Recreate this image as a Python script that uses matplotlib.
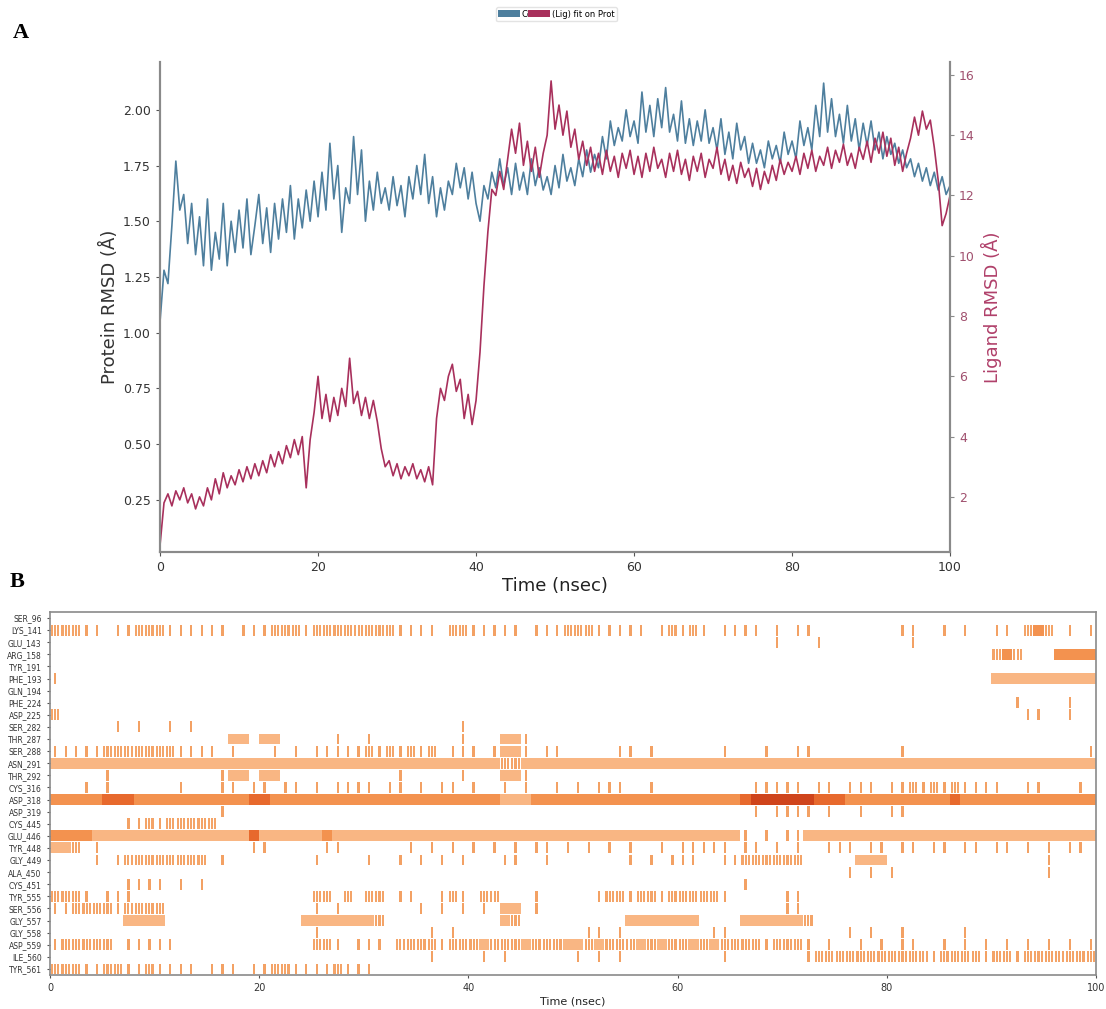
import numpy as np
import matplotlib
matplotlib.use("Agg")
from matplotlib import pyplot as plt
from matplotlib.patches import Patch

# ---- panel A data (RMSD, sampled every 0.5 ns) ----
time_a = np.arange(0, 100.5, 0.5)

protein_rmsd = [
    1.05, 1.28, 1.22, 1.48, 1.77, 1.55, 1.62, 1.40, 1.58, 1.35,
    1.52, 1.30, 1.60, 1.28, 1.45, 1.33, 1.58, 1.30, 1.50, 1.36,
    1.55, 1.38, 1.60, 1.35, 1.48, 1.62, 1.40, 1.56, 1.36, 1.58,
    1.42, 1.60, 1.45, 1.66, 1.42, 1.60, 1.47, 1.64, 1.50, 1.68,
    1.52, 1.72, 1.55, 1.85, 1.60, 1.75, 1.45, 1.65, 1.58, 1.88,
    1.62, 1.82, 1.50, 1.68, 1.55, 1.72, 1.58, 1.65, 1.55, 1.70,
    1.57, 1.66, 1.52, 1.70, 1.60, 1.75, 1.62, 1.80, 1.58, 1.70,
    1.52, 1.65, 1.55, 1.68, 1.62, 1.76, 1.65, 1.74, 1.60, 1.72,
    1.58, 1.50, 1.66, 1.60, 1.72, 1.65, 1.78, 1.66, 1.74, 1.62,
    1.76, 1.64, 1.72, 1.62, 1.78, 1.66, 1.74, 1.64, 1.70, 1.62,
    1.75, 1.65, 1.80, 1.68, 1.74, 1.66, 1.78, 1.70, 1.82, 1.72,
    1.80, 1.74, 1.88, 1.78, 1.95, 1.84, 1.92, 1.86, 2.00, 1.88,
    1.95, 1.85, 2.08, 1.90, 2.02, 1.88, 2.05, 1.92, 2.10, 1.90,
    1.98, 1.86, 2.04, 1.85, 1.96, 1.84, 1.95, 1.86, 2.00, 1.85,
    1.92, 1.82, 1.96, 1.80, 1.90, 1.78, 1.94, 1.82, 1.88, 1.76,
    1.85, 1.76, 1.82, 1.74, 1.86, 1.78, 1.84, 1.76, 1.90, 1.80,
    1.86, 1.78, 1.95, 1.84, 1.92, 1.82, 2.02, 1.88, 2.12, 1.90,
    2.05, 1.88, 1.98, 1.85, 2.02, 1.86, 1.96, 1.82, 1.94, 1.84,
    1.95, 1.82, 1.90, 1.78, 1.88, 1.80, 1.85, 1.76, 1.82, 1.74,
    1.78, 1.70, 1.76, 1.68, 1.74, 1.66, 1.72, 1.64, 1.70, 1.62,
    1.66,
]

ligand_rmsd = [
    0.4, 1.8, 2.1, 1.7, 2.2, 1.9, 2.3, 1.8, 2.1, 1.6,
    2.0, 1.7, 2.3, 1.9, 2.6, 2.1, 2.8, 2.3, 2.7, 2.4,
    2.9, 2.5, 3.0, 2.6, 3.1, 2.7, 3.2, 2.8, 3.4, 3.0,
    3.5, 3.1, 3.7, 3.3, 3.9, 3.4, 4.0, 2.3, 3.9, 4.8,
    6.0, 4.6, 5.4, 4.5, 5.3, 4.7, 5.6, 5.0, 6.6, 5.1,
    5.5, 4.7, 5.3, 4.6, 5.2, 4.5, 3.6, 3.0, 3.2, 2.7,
    3.1, 2.6, 3.0, 2.7, 3.1, 2.6, 2.9, 2.5, 3.0, 2.4,
    4.6, 5.6, 5.2, 6.0, 6.4, 5.5, 5.9, 4.6, 5.4, 4.4,
    5.2, 6.8, 9.0, 10.8, 12.2, 12.0, 12.8, 12.2, 13.2, 14.2,
    13.4, 14.4, 13.0, 13.8, 12.8, 13.6, 12.6, 13.4, 14.0, 15.8,
    14.2, 15.0, 14.0, 14.8, 13.6, 14.2, 13.2, 13.8, 13.0, 13.6,
    12.8, 13.4, 12.7, 13.5, 12.8, 13.3, 12.6, 13.4, 12.9, 13.5,
    12.7, 13.3, 12.6, 13.4, 12.8, 13.6, 12.9, 13.2, 12.6, 13.4,
    12.8, 13.5, 12.7, 13.2, 12.5, 13.3, 12.8, 13.4, 12.6, 13.2,
    12.9, 13.6, 12.7, 13.2, 12.5, 13.0, 12.4, 13.1, 12.6, 12.9,
    12.3, 12.9, 12.2, 12.8, 12.4, 13.0, 12.5, 13.2, 12.7, 13.1,
    12.8, 13.3, 12.7, 13.4, 12.9, 13.5, 12.8, 13.3, 13.0, 13.6,
    12.9, 13.5, 13.1, 13.7, 13.0, 13.4, 12.9, 13.6, 13.2, 13.8,
    13.1, 13.9, 13.4, 14.1, 13.3, 13.9, 13.0, 13.6, 12.8, 13.4,
    13.9, 14.6, 14.0, 14.8, 14.2, 14.5, 13.6, 12.5, 11.0, 11.4,
    12.0,
]

# ---- panel B data (contact level per 1 ns bin) ----
# 0 none, 1 sparse tick, 2 dense ticks, 3 light, 4 medium, 5 dark, 6 darkest
residues = ["SER_96", "LYS_141", "GLU_143", "ARG_158", "TYR_191", "PHE_193",
            "GLN_194", "PHE_224", "ASP_225", "SER_282", "THR_287", "SER_288",
            "ASN_291", "THR_292", "CYS_316", "ASP_318", "ASP_319", "CYS_445",
            "GLU_446", "TYR_448", "GLY_449", "ALA_450", "CYS_451", "TYR_555",
            "SER_556", "GLY_557", "GLY_558", "ASP_559", "ILE_560", "TYR_561"]

Z = "0000000000"
contacts = [
    " ".join([Z] * 10),
    "2221101122 2111111011 1222122222 2221111022 1111101112 2211111012 1210111101 0110000000 0110010100 1102420101",
    " ".join([Z] * 6) + " 0000000001 0001000000 0010000000 " + Z,
    " ".join([Z] * 9) + " 2420004444",
    " ".join([Z] * 10),
    "1000000000 " + " ".join([Z] * 8) + " 3333333333",
    " ".join([Z] * 10),
    " ".join([Z] * 9) + " 0010000100",
    "2000000000 " + " ".join([Z] * 8) + " 0001100100",
    "0000001010 0101000000 " + Z + " 0000000001 " + " ".join([Z] * 6),
    "0000000000 0000000330 3300000100 1000000001 0003310000 " + " ".join([Z] * 4) + " 0000000000",
    "1111122222 2211110100 0101011111 2121212011 1013310110 0000110100 0000100010 0110000000 0100000000 0000000001",
    "3333333333 3333333333 3333333333 3333333333 3332233333 3333333333 3333333333 3333333333 3333333333 3333333333",
    "0000010000 0000001330 3300000000 0001000001 0003310000 " + " ".join([Z] * 5),
    "0001010000 0010001101 1011010111 1011010110 1001010010 1011100100 0000000111 1101101110 1121212111 1001100010",
    "4444455544 4444444445 5444444444 4444444444 4443334444 4444444444 4444445666 6665554444 4444445444 4444444444",
    Z + " 0000001000 " + " ".join([Z] * 4) + " 0000000101 1110100100 1100000000 " + Z,
    "0000000112 1222220000 " + " ".join([Z] * 8),
    "4444333333 3333333335 3333334333 3333333333 3333333333 3333333333 3333331010 1133333333 3333333333 3333333333",
    "3320100000 0000000001 1000001100 0000101010 1010101101 0101010010 1111101101 0100111011 0110110110 1101010110",
    "0000101222 2222201000 0000010000 1001010101 0001100100 0000010101 1100112222 2200000333 0000000000 0000010000",
    " ".join([Z] * 7) + " 0000001010 1000000000 0000010000",
    "0000000111 1010100000 " + " ".join([Z] * 4) + " 0000001000 " + " ".join([Z] * 3),
    "2221011100 0000000000 0000022020 2201100121 0220001000 0012212212 2222100000 1100000000 " + Z + " " + Z,
    "1122221222 2000000000 0000010100 0000010101 0103301000 " + Z + " " + Z + " 1100000000 " + Z + " " + Z,
    "0000000333 3000000000 0000333333 3200000000 0003200000 0000033333 3300003333 3320000000 " + Z + " " + Z,
    Z + " " + Z + " 0000010000 0000001010 " + Z + " 0110100000 0001100000 0000001010 0100000100 " + Z,
    "1222220111 1100000000 0000022101 1102222122 2322232223 3232223232 2323222212 2210100101 0110010101 0101010101",
    Z + " " + Z + " " + Z + " 0000001000 0101000000 1010100000 0000100000 0012222222 2222122221 2212222222",
    "2221122112 1111011101 1221111211 1000000000 " + " ".join([Z] * 6),
]

level_color = {1: "#f3a164", 2: "#f4a468", 3: "#f9b683", 4: "#f3924f", 5: "#e7692d", 6: "#cf441b"}

blue = "#4e7f9e"
red = "#a8305c"

fig = plt.figure(figsize=(11.06, 10.09), dpi=100)

# ---------------- panel A ----------------
ax1 = fig.add_axes([0.1447, 0.4529, 0.7143, 0.4857])
ax2 = ax1.twinx()
ax1.plot(time_a, protein_rmsd, color=blue, lw=1.2)
ax2.plot(time_a, ligand_rmsd, color=red, lw=1.2)

ax1.set_xlim(0, 100)
ax1.set_ylim(0.015, 2.215)
ax2.set_ylim(0.17, 16.43)
ax1.set_xticks([0, 20, 40, 60, 80, 100])
ax1.set_yticks(np.arange(0.25, 2.01, 0.25))
ax1.set_yticklabels(["%.2f" % v for v in np.arange(0.25, 2.01, 0.25)])
ax2.set_yticks([2, 4, 6, 8, 10, 12, 14, 16])

for a in (ax1, ax2):
    a.spines["top"].set_visible(False)
    for s in ("left", "right", "bottom"):
        a.spines[s].set_color("#8a8a8a")
        a.spines[s].set_linewidth(1.5)
ax1.tick_params(axis="both", labelsize=9, colors="#555555", labelcolor="#333333", length=3)
ax2.tick_params(axis="y", labelsize=9, colors="#8a8a8a", labelcolor="#a0506e", length=3)

ax1.set_xlabel("Time (nsec)", fontsize=13, color="#222222", labelpad=2)
ax1.set_ylabel("Protein RMSD (Å)", fontsize=13, color="#333333", labelpad=3)
ax2.set_ylabel("Ligand RMSD (Å)", fontsize=13, color="#b0406a", labelpad=4)

fig.legend(handles=[Patch(facecolor=blue), Patch(facecolor=red)],
           labels=["Cα", "(Lig) fit on Prot"], loc="upper center",
           bbox_to_anchor=(0.503, 0.997), ncol=2, fontsize=6,
           handlelength=2.6, handleheight=0.9, handletextpad=0.2,
           columnspacing=-0.6, frameon=True, edgecolor="#dddddd",
           borderpad=0.3)

fig.text(0.012, 0.962, "A", fontsize=16, fontweight="bold", family="Liberation Serif")
fig.text(0.009, 0.418, "B", fontsize=16, fontweight="bold", family="Liberation Serif")

# ---------------- panel B ----------------
axb = fig.add_axes([0.0452, 0.0337, 0.9458, 0.3598])
xs, ys, ws, cs = [], [], [], []
for r, row in enumerate(contacts):
    for t, ch in enumerate(row.replace(" ", "")):
        lvl = int(ch)
        if lvl == 0:
            continue
        if lvl == 1:
            # single thin contact tick
            xs.append(t + 0.5); ws.append(0.22)
            ys.append(r - 0.45); cs.append(level_color[1])
        elif lvl == 2:
            # dense thin ticks
            for off in (0.2, 0.5, 0.8):
                xs.append(t + off); ws.append(0.2)
                ys.append(r - 0.45); cs.append(level_color[2])
        else:
            xs.append(t + 0.5); ws.append(1.0)
            ys.append(r - 0.45); cs.append(level_color[lvl])
axb.bar(xs, 0.9, width=ws, bottom=ys, color=cs, linewidth=0)

axb.set_xlim(0, 100)
axb.set_ylim(len(residues) - 0.5, -0.5)
axb.set_yticks(range(len(residues)))
axb.set_yticklabels(residues)
axb.set_xticks([0, 20, 40, 60, 80, 100])
axb.tick_params(axis="y", labelsize=5.5, colors="#555555", labelcolor="#333333", length=2.5)
axb.tick_params(axis="x", labelsize=7, colors="#555555", labelcolor="#333333", length=2.5)
axb.set_xlabel("Time (nsec)", fontsize=8, color="#222222", labelpad=2)
for s in axb.spines.values():
    s.set_color("#8a8a8a")
    s.set_linewidth(1.2)

fig.savefig("out.png", dpi=100)
